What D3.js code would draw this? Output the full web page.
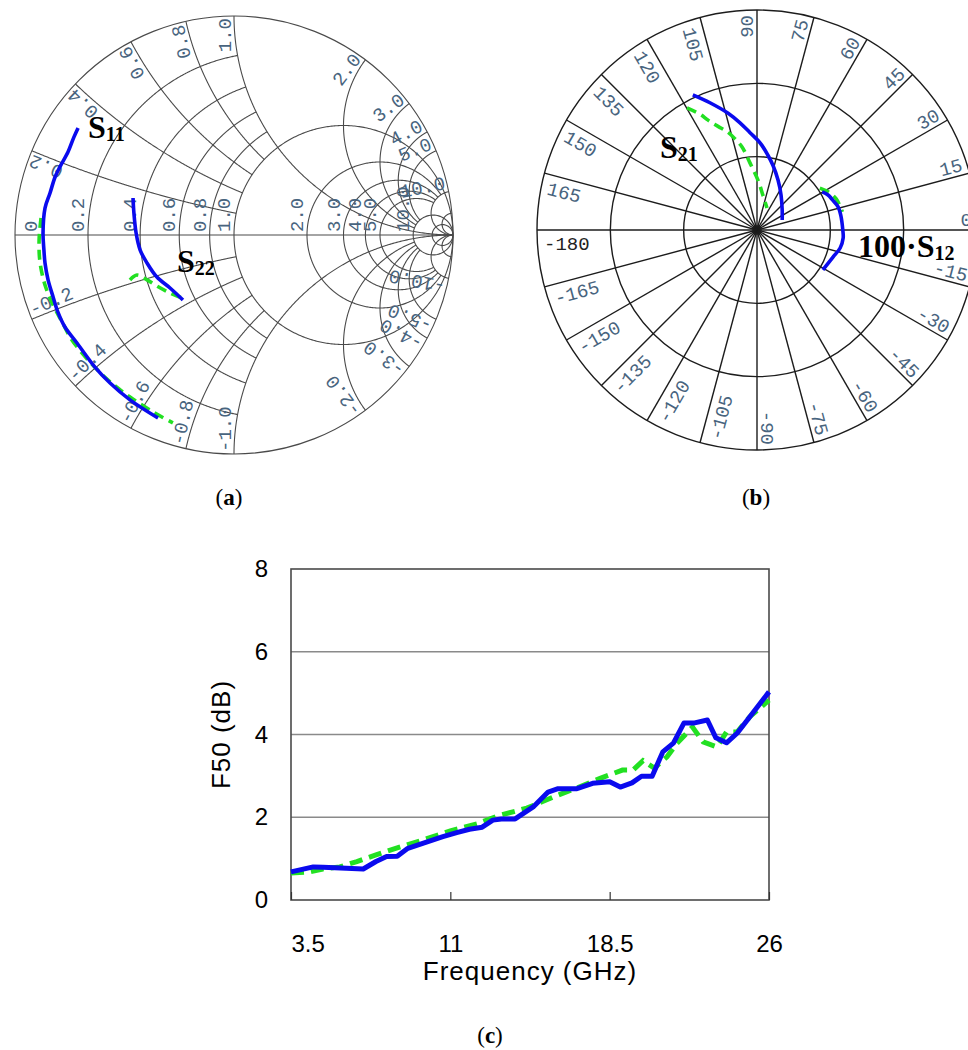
<!DOCTYPE html>
<html>
<head>
<meta charset="utf-8">
<script src="https://cdn.jsdelivr.net/npm/d3@7"></script>
<style>
    body { margin: 0; background: #fff; }
    svg { display: block; }
</style>
</head>
<body>
<svg id="fig" width="968" height="1050"></svg>
<script>
// ---------- data ----------
// Smith chart grid (normalised resistance / reactance)
const smithRes = [0.2, 0.4, 0.6, 0.8, 1, 2, 3, 4, 5, 10, 20];
const smithReact = [0.2, 0.4, 0.6, 0.8, 1, 2, 3, 4, 5, 10, 20];
const smithAxisValues = [0, 0.2, 0.4, 0.6, 0.8, 1, 2, 3, 4, 5, 10];
const smithAxisLabels = ['0', '0.2', '0.4', '0.6', '0.8', '1.0', '2.0', '3.0', '4.0', '5.0', '10.0'];
const smithRimValues = [0.2, 0.4, 0.6, 0.8, 1, 2, 3, 4, 5, 10];
const smithRimLabels = ['0.2', '0.4', '0.6', '0.8', '1.0', '2.0', '3.0', '4.0', '5.0', '10.0'];

// reflection coefficients [re, im]
const s11Meas = [[-0.712, 0.489], [-0.731, 0.447], [-0.758, 0.379], [-0.795, 0.311], [-0.817, 0.265],
    [-0.840, 0.192], [-0.863, 0.123], [-0.872, 0.009], [-0.868, -0.068], [-0.863, -0.128],
    [-0.849, -0.205], [-0.826, -0.283], [-0.804, -0.352], [-0.772, -0.420], [-0.717, -0.493],
    [-0.635, -0.603], [-0.566, -0.676], [-0.475, -0.753], [-0.347, -0.836]];
const s11Model = [[-0.881, 0.078], [-0.890, -0.023], [-0.886, -0.123], [-0.863, -0.228], [-0.826, -0.320],
    [-0.785, -0.397], [-0.740, -0.479], [-0.658, -0.580], [-0.575, -0.662], [-0.475, -0.740],
    [-0.361, -0.813], [-0.279, -0.858]];
const s22Meas = [[-0.461, 0.169], [-0.457, 0.100], [-0.447, 0.009], [-0.429, -0.068], [-0.397, -0.128],
    [-0.352, -0.192], [-0.292, -0.242], [-0.233, -0.297]];
const s22Model = [[-0.475, -0.205], [-0.443, -0.183], [-0.397, -0.205], [-0.352, -0.233],
    [-0.292, -0.265], [-0.237, -0.288]];

// polar chart: [angle deg, magnitude]
const polarRings = [1, 2, 3];
const polarAngles = d3.range(-180, 180, 15);
const s21Meas = [[115.4, 2.04], [110.3, 1.85], [103.9, 1.64], [99.0, 1.48], [94.1, 1.33], [88.0, 1.19],
    [81.7, 1.03], [76.2, 0.91], [67.2, 0.74], [55.6, 0.58], [38.7, 0.44], [21.8, 0.37]];
const s21Model = [[119.8, 1.92], [116.2, 1.76], [114.0, 1.64], [110.6, 1.51], [106.5, 1.39],
    [103.6, 1.28], [100.2, 1.15], [96.0, 0.92], [88.9, 0.68], [80.3, 0.48], [65.6, 0.33]];
const s12Meas = [[30.3, 1.03], [26.2, 1.08], [21.5, 1.11], [15.9, 1.15], [10.1, 1.16], [0, 1.17],
    [-5.3, 1.18], [-12.2, 1.16], [-19.6, 1.10], [-31.2, 1.05]];
const s12Model = [[33.7, 1.03], [28.2, 1.10], [21.4, 1.16], [12.0, 1.19]];

// noise figure vs frequency
const freqMeas = [3.5, 4.55, 5.0, 6.1, 6.9, 7.5, 8.0, 8.5, 9.0, 9.7, 10.65, 11.3, 11.9, 12.5, 13.0, 13.4,
    14.05, 14.9, 15.6, 16.07, 16.96, 17.7, 18.5, 19.0, 19.55, 20.0, 20.5, 21.0, 21.5, 22.0, 22.5, 23.1,
    23.5, 24.0, 24.5, 25.1, 26.0];
const nfMeas = [0.68, 0.80, 0.79, 0.77, 0.75, 0.93, 1.05, 1.06, 1.25, 1.37, 1.53, 1.63, 1.71, 1.76, 1.93,
    1.96, 1.96, 2.25, 2.61, 2.69, 2.69, 2.82, 2.86, 2.73, 2.83, 2.99, 2.99, 3.58, 3.79, 4.28, 4.28, 4.35,
    3.92, 3.80, 4.03, 4.43, 5.03];
const freqModel = [3.5, 4.4, 5.0, 5.8, 6.6, 7.5, 8.5, 9.7, 11.0, 12.25, 13.35, 14.6, 15.85, 16.96, 18.05,
    19.1, 19.6, 20.07, 20.6, 21.2, 21.67, 22.4, 22.9, 23.55, 24.0, 24.5, 25.1, 26.0];
const nfModel = [0.65, 0.68, 0.75, 0.80, 0.93, 1.09, 1.26, 1.45, 1.67, 1.84, 2.05, 2.22, 2.49, 2.71, 2.94,
    3.14, 3.14, 3.37, 3.19, 3.46, 3.79, 4.18, 3.82, 3.70, 4.06, 4.06, 4.43, 4.83];
const yTicks = [0, 2, 4, 6, 8];
const xTicks = [3.5, 11, 18.5, 26];

// ---------- layout ----------
const SMITH = { cx: 234, cy: 235, R: 219 };
const POLAR = { cx: 757, cy: 230, R: 220 };
const PLOT = { left: 291, right: 769, top: 569, bottom: 900 };
const BLUE = '#0a0aee';
const GREEN = '#22e022';
const GRID_LABEL = '#48647e';
const MONO = 'Liberation Mono, DejaVu Sans Mono, monospace';
const SERIF = 'Liberation Serif, Times New Roman, serif';
const SANS = 'Liberation Sans, Arial, sans-serif';

const svg = d3.select('#fig');

function gamma(r, x) {
    const den = (r + 1) * (r + 1) + x * x;
    return [(r * r + x * x - 1) / den, (2 * x) / den];
}

// lines below 1 stop at 1, lines between 1 and 10 stop at 10
function clipLimit(v) {
    if (v < 1) return 1;
    if (v > 1 && v < 10) return 10;
    return Infinity;
}

function addSubLabel(g, x, y, main, sub) {
    const t = g.append('text')
        .attr('x', x).attr('y', y)
        .attr('font-family', SERIF)
        .attr('font-weight', 'bold')
        .attr('font-size', 32)
        .attr('fill', '#000')
        .text(main);
    t.append('tspan').attr('font-size', 20).attr('dy', 3).text(sub);
}

function drawSmith() {
    const g = svg.append('g');
    const sx = d3.scaleLinear().domain([-1, 1]).range([SMITH.cx - SMITH.R, SMITH.cx + SMITH.R]);
    const sy = d3.scaleLinear().domain([-1, 1]).range([SMITH.cy + SMITH.R, SMITH.cy - SMITH.R]);
    const line = d3.line().x(d => sx(d[0])).y(d => sy(d[1]));
    const grid = g.append('g').attr('fill', 'none').attr('stroke', '#4a4a4a').attr('stroke-width', 1.1);

    smithRes.forEach(r => {
        const lim = Math.atan(clipLimit(r));
        const pts = d3.range(0, 601).map(i => gamma(r, Math.tan(-lim + 2 * lim * i / 600)));
        grid.append('path').attr('d', line(pts));
    });
    smithReact.forEach(x => {
        const lim = Math.atan(clipLimit(x));
        [1, -1].forEach(s => {
            const pts = d3.range(0, 401).map(i => gamma(Math.tan(lim * i / 400), s * x));
            grid.append('path').attr('d', line(pts));
        });
    });
    grid.append('circle').attr('cx', sx(0)).attr('cy', sy(0)).attr('r', SMITH.R);
    grid.append('line')
        .attr('x1', sx(-1)).attr('x2', sx(1))
        .attr('y1', sy(0)).attr('y2', sy(0));

    const labels = g.append('g')
        .attr('font-family', MONO).attr('font-size', 19).attr('fill', GRID_LABEL);

    smithAxisValues.forEach((r, i) => {
        const left = sx((r - 1) / (r + 1));
        const bx = r === 0 ? left + 22 : left - 4;
        labels.append('text')
            .attr('transform', `translate(${bx},${sy(0) - 3}) rotate(-90)`)
            .text(smithAxisLabels[i]);
    });

    smithRimValues.forEach((x, i) => {
        const p = gamma(0, x);
        const phi = Math.atan2(p[1], p[0]) * 180 / Math.PI;
        labels.append('text')
            .attr('transform', `translate(${sx(0)},${sy(0)}) rotate(${-phi})`)
            .attr('x', SMITH.R - 2).attr('y', -3)
            .attr('text-anchor', 'end')
            .text(smithRimLabels[i]);
        labels.append('text')
            .attr('transform', `translate(${sx(0)},${sy(0)}) rotate(${phi + 180})`)
            .attr('x', -(SMITH.R - 2)).attr('y', -3)
            .attr('text-anchor', 'start')
            .text('-' + smithRimLabels[i]);
    });

    const curves = [
        { data: s11Model, color: GREEN, dash: '10,6' },
        { data: s22Model, color: GREEN, dash: '10,6' },
        { data: s11Meas, color: BLUE, dash: null },
        { data: s22Meas, color: BLUE, dash: null }
    ];
    const smooth = d3.line().x(d => sx(d[0])).y(d => sy(d[1])).curve(d3.curveCatmullRom);
    curves.forEach(c => {
        g.append('path')
            .attr('d', smooth(c.data))
            .attr('fill', 'none')
            .attr('stroke', c.color)
            .attr('stroke-width', 3.6)
            .attr('stroke-dasharray', c.dash);
    });

    addSubLabel(g, 88, 138, 'S', '11');
    addSubLabel(g, 177, 272, 'S', '22');
}

function drawPolar() {
    const g = svg.append('g');
    const pr = d3.scaleLinear().domain([0, 3]).range([0, POLAR.R]);
    const toXY = (ang, m) => {
        const a = ang * Math.PI / 180;
        return [POLAR.cx + pr(m) * Math.cos(a), POLAR.cy - pr(m) * Math.sin(a)];
    };
    const grid = g.append('g').attr('fill', 'none').attr('stroke', '#1c1c1c').attr('stroke-width', 1.4);

    polarRings.forEach(m => {
        grid.append('circle').attr('cx', POLAR.cx).attr('cy', POLAR.cy).attr('r', pr(m));
    });
    polarAngles.forEach(a => {
        const p = toXY(a, 3);
        grid.append('line')
            .attr('x1', POLAR.cx).attr('y1', POLAR.cy)
            .attr('x2', p[0]).attr('y2', p[1]);
    });
    grid.append('circle').attr('cx', POLAR.cx).attr('cy', POLAR.cy).attr('r', 4);

    const labels = g.append('g').attr('font-family', MONO).attr('font-size', 19);
    polarAngles.forEach(a => {
        const right = a >= -90 && a <= 90;
        const t = labels.append('text')
            .attr('fill', a === -180 ? '#222' : GRID_LABEL)
            .text(String(a));
        if (right) {
            t.attr('transform', `translate(${POLAR.cx},${POLAR.cy}) rotate(${-a})`)
                .attr('x', POLAR.R - 5).attr('y', -4)
                .attr('text-anchor', 'end');
        } else {
            t.attr('transform', `translate(${POLAR.cx},${POLAR.cy}) rotate(${180 - a})`)
                .attr('x', -(POLAR.R - 7)).attr('y', 20)
                .attr('text-anchor', 'start');
        }
    });

    const line = d3.line().curve(d3.curveCatmullRom);
    const curves = [
        { data: s21Model, color: GREEN, dash: '10,6' },
        { data: s12Model, color: GREEN, dash: '10,6' },
        { data: s21Meas, color: BLUE, dash: null },
        { data: s12Meas, color: BLUE, dash: null }
    ];
    curves.forEach(c => {
        g.append('path')
            .attr('d', line(c.data.map(d => toXY(d[0], d[1]))))
            .attr('fill', 'none')
            .attr('stroke', c.color)
            .attr('stroke-width', 3.6)
            .attr('stroke-dasharray', c.dash);
    });

    addSubLabel(g, 660, 158, 'S', '21');
    addSubLabel(g, 858, 257, '100\u00b7S', '12');
}

function drawNoise() {
    const g = svg.append('g');
    const x = d3.scaleLinear().domain([3.5, 26]).range([PLOT.left, PLOT.right]);
    const y = d3.scaleLinear().domain([0, 8]).range([PLOT.bottom, PLOT.top]);

    g.append('g')
        .selectAll('line')
        .data(yTicks.filter(v => v > 0 && v < 8))
        .join('line')
        .attr('x1', PLOT.left).attr('x2', PLOT.right)
        .attr('y1', d => y(d)).attr('y2', d => y(d))
        .attr('stroke', '#8a8a8a').attr('stroke-width', 1.6);

    g.append('rect')
        .attr('x', PLOT.left).attr('y', PLOT.top)
        .attr('width', PLOT.right - PLOT.left).attr('height', PLOT.bottom - PLOT.top)
        .attr('fill', 'none').attr('stroke', '#4a4a4a').attr('stroke-width', 1.6);

    const yAxis = g.append('g')
        .attr('transform', `translate(${PLOT.left},0)`)
        .call(d3.axisLeft(y).tickValues(yTicks).tickSize(0).tickPadding(23).tickFormat(d3.format('d')));
    yAxis.select('.domain').remove();

    const xAxis = g.append('g')
        .attr('transform', `translate(0,${PLOT.bottom})`)
        .call(d3.axisBottom(x).tickValues(xTicks).tickSize(-8).tickPadding(35).tickFormat(d => String(d)));
    xAxis.select('.domain').remove();
    xAxis.selectAll('.tick line').attr('stroke', '#333').attr('stroke-width', 1.2);
    xAxis.selectAll('.tick').filter(d => d === xTicks[0]).select('text').attr('text-anchor', 'start');

    g.selectAll('.tick text')
        .attr('font-family', SANS).attr('font-size', 24).attr('fill', '#000');

    const line = d3.line().x(d => x(d[0])).y(d => y(d[1]));
    g.append('path')
        .attr('d', line(freqModel.map((f, i) => [f, nfModel[i]])))
        .attr('fill', 'none').attr('stroke', GREEN).attr('stroke-width', 5)
        .attr('stroke-dasharray', '13,7');
    g.append('path')
        .attr('d', line(freqMeas.map((f, i) => [f, nfMeas[i]])))
        .attr('fill', 'none').attr('stroke', BLUE).attr('stroke-width', 5)
        .attr('stroke-linejoin', 'round');

    g.append('text')
        .attr('x', (PLOT.left + PLOT.right) / 2).attr('y', 980)
        .attr('text-anchor', 'middle')
        .attr('font-family', SANS).attr('font-size', 26).attr('letter-spacing', 1)
        .text('Frequency (GHz)');
    g.append('text')
        .attr('transform', `translate(230,${(PLOT.top + PLOT.bottom) / 2}) rotate(-90)`)
        .attr('text-anchor', 'middle')
        .attr('font-family', SANS).attr('font-size', 26).attr('letter-spacing', 1)
        .text('F50 (dB)');
}

function drawCaption(x, y, letter) {
    const t = svg.append('text')
        .attr('x', x).attr('y', y)
        .attr('text-anchor', 'middle')
        .attr('font-family', SERIF).attr('font-size', 23).attr('fill', '#000')
        .text('(');
    t.append('tspan').attr('font-weight', 'bold').text(letter);
    t.append('tspan').text(')');
}

drawSmith();
drawPolar();
drawNoise();
drawCaption(229, 505, 'a');
drawCaption(756, 505, 'b');
drawCaption(490, 1043, 'c');
</script>
</body>
</html>
